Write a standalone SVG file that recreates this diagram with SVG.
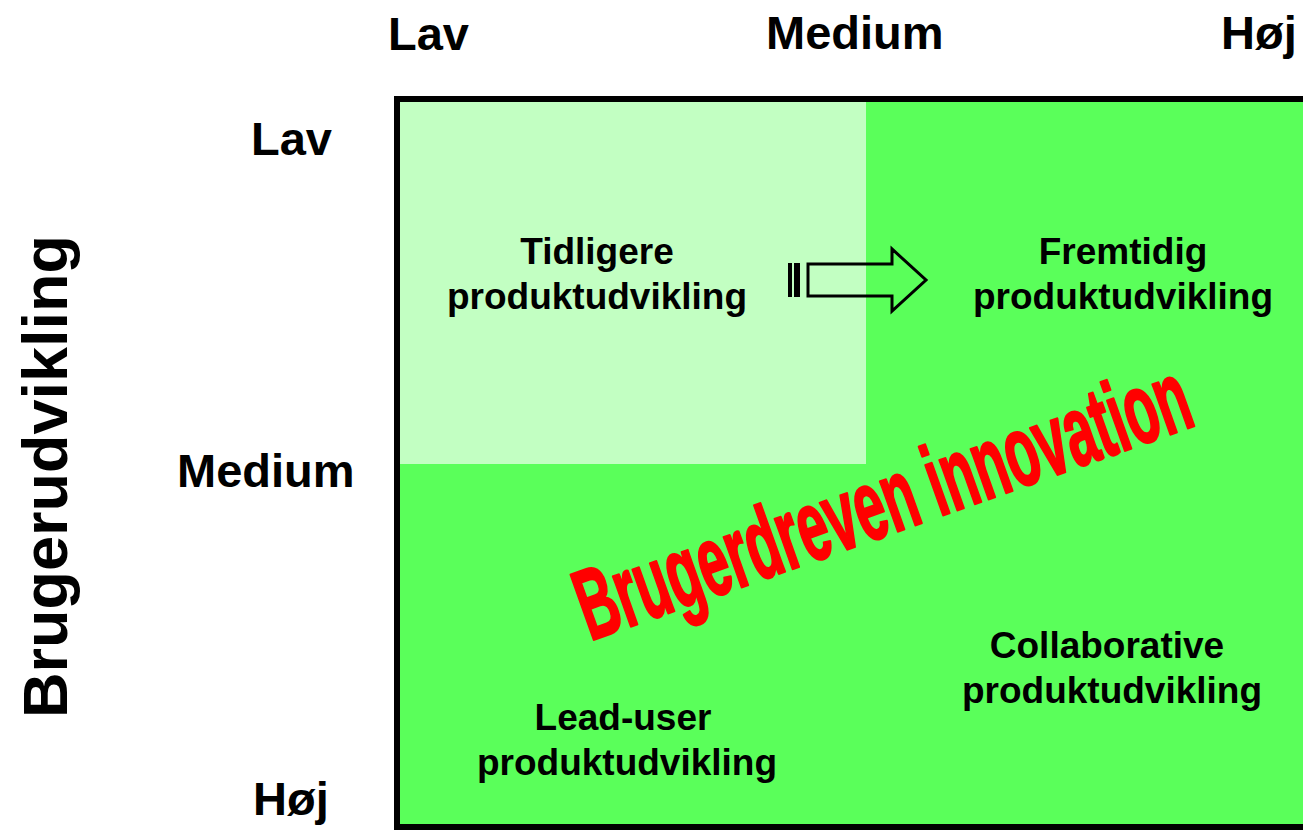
<svg xmlns="http://www.w3.org/2000/svg" width="1303" height="830" viewBox="0 0 1303 830">
<style>
.ax{font-family:"Liberation Sans",Arial,sans-serif;font-weight:bold;font-size:47px;fill:#000}
.lb{font-family:"Liberation Sans",Arial,sans-serif;font-weight:bold;font-size:37px;fill:#000;text-anchor:middle}
.red{font-family:"Liberation Sans",Arial,sans-serif;font-weight:bold;font-size:100px;fill:#FF0000;stroke:#FF0000;stroke-width:2.5px;stroke-linejoin:round}
</style>
<rect width="1303" height="830" fill="#FFFFFF"/>
<g id="matrix">
<rect x="397" y="99" width="1000" height="728" fill="#5AFF5A" stroke="#000" stroke-width="6"/>
<rect x="400" y="102" width="466" height="362" fill="#C2FFC2"/>
</g>
<g id="axis-top">
<text class="ax" x="388" y="50">Lav</text>
<text class="ax" x="766" y="49">Medium</text>
<text class="ax" x="1221" y="49">Høj</text>
</g>
<g id="axis-left">
<text class="ax" x="251" y="155">Lav</text>
<text class="ax" x="177" y="487">Medium</text>
<text class="ax" x="253" y="815">Høj</text>
<text class="ax" x="67" y="718" transform="rotate(-90 67 718)" style="font-size:63px">Brugerudvikling</text>
</g>
<g id="node-tidligere">
<text class="lb" x="597" y="264">Tidligere</text>
<text class="lb" x="597" y="309">produktudvikling</text>
</g>
<g id="node-fremtidig">
<text class="lb" x="1123" y="264">Fremtidig</text>
<text class="lb" x="1123" y="309">produktudvikling</text>
</g>
<g id="node-collaborative">
<text class="lb" x="1107" y="658">Collaborative</text>
<text class="lb" x="1112" y="703">produktudvikling</text>
</g>
<g id="node-leaduser">
<text class="lb" x="623" y="730">Lead-user</text>
<text class="lb" x="627" y="775">produktudvikling</text>
</g>
<g id="connectors">
<rect x="788" y="263" width="4" height="34" fill="#000"/>
<rect x="794" y="263" width="6" height="34" fill="#000"/>
<path d="M808,264 H892 V249 L926,280 L892,311 V296 H808 Z" fill="none" stroke="#000" stroke-width="3" stroke-linejoin="miter"/>
</g>
<g id="label-brugerdreven">
<text class="red" x="590" y="641" textLength="645" lengthAdjust="spacingAndGlyphs" transform="rotate(-19.6 590 641)">Brugerdreven innovation</text>
</g>
</svg>
